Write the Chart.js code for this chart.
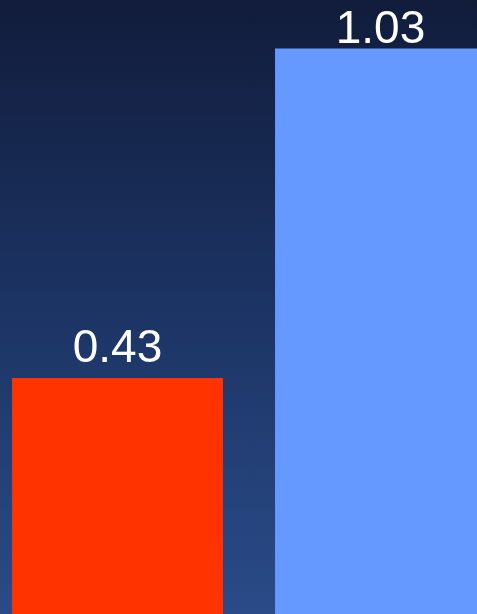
<!DOCTYPE html>
<html>
<head>
<meta charset="utf-8">
<script src="https://cdn.jsdelivr.net/npm/chart.js@4"></script>
<style>
  html, body { margin: 0; padding: 0; width: 477px; height: 614px; overflow: hidden; }
  body { background: linear-gradient(to bottom, #111c3b 0%, #1c3464 50%, #2a4b88 100%); position: relative; }
  #wrap { position: absolute; left: -14px; top: 0; width: 526px; height: 614px; }
</style>
</head>
<body>
<div id="wrap"><canvas id="c"></canvas></div>
<script>
const categories = ['A', 'B'];
const values = [0.43, 1.03];
const barColors = ['#ff3300', '#6699ff'];

// Writes each bar's value above it, keeping the text inside the canvas
const valueLabels = {
  id: 'valueLabels',
  afterDatasetsDraw(chart) {
    const ctx = chart.ctx;
    const meta = chart.getDatasetMeta(0);
    ctx.save();
    ctx.font = '46px "Liberation Sans", Arial, sans-serif';
    ctx.fillStyle = '#ffffff';
    ctx.textAlign = 'center';
    ctx.textBaseline = 'alphabetic';
    meta.data.forEach((bar, i) => {
      const y = Math.max(bar.y - 16, 43);
      ctx.fillText(values[i].toFixed(2), bar.x, y);
    });
    ctx.restore();
  }
};

new Chart(document.getElementById('c'), {
  type: 'bar',
  data: {
    labels: categories,
    datasets: [{
      data: values,
      backgroundColor: barColors,
      borderWidth: 0,
      barPercentage: 0.802,
      categoryPercentage: 1.0
    }]
  },
  options: {
    responsive: true,
    maintainAspectRatio: false,
    animation: false,
    layout: { padding: 0 },
    plugins: { legend: { display: false }, tooltip: { enabled: false } },
    scales: {
      x: { display: false, offset: true },
      y: { display: false, min: 0, max: 1.1184 }
    }
  },
  plugins: [valueLabels]
});
</script>
</body>
</html>
